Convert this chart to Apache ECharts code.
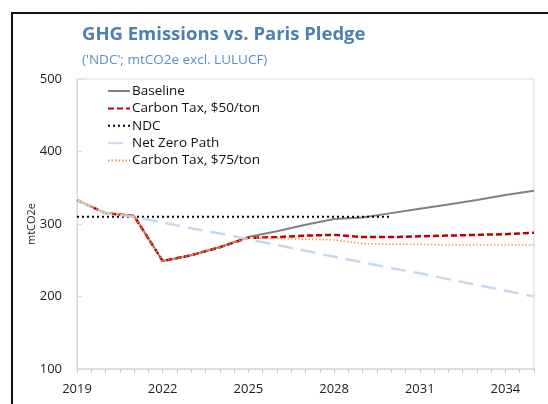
<!DOCTYPE html>
<html>
<head>
<meta charset="utf-8">
<script src="https://cdn.jsdelivr.net/npm/echarts@6/dist/echarts.min.js"></script>
<style>
  html, body { margin: 0; padding: 0; background: #fff; }
  #chart { width: 548px; height: 404px; }
</style>
</head>
<body>
<div id="chart"></div>
<script>
// years on the x axis
var years = [2019, 2020, 2021, 2022, 2023, 2024, 2025, 2026, 2027, 2028, 2029, 2030, 2031, 2032, 2033, 2034, 2035];
// series values (mtCO2e), null = no point
var baseline  = [333, 315, 311, 249, 257, 268, 282, 290, 299, 307, 309, 315, 321, 327, 333, 340, 346];
var carbon50  = [333, 315, 311, 249, 257, 268, 281, 282, 284, 285, 282, 282, 283, 284, 285, 286, 288];
var ndc       = [310, 310, 310, 310, 310, 310, 310, 310, 310, 310, 310, 310, null, null, null, null, null];
var netZero   = [333, 315, 310, 302, 294, 287, 279, 271, 263, 255, 247, 239, 232, 224, 216, 208, 200];
var carbon75  = [333, 315, 311, 249, 257, 268, 281, 280, 279, 278, 273, 272, 272, 271, 271, 271, 271];
var labelYears = [2019, 2022, 2025, 2028, 2031, 2034];

function pairs(vals) {
	var out = [];
	for (var i = 0; i < years.length; i++) {
		if (vals[i] !== null) out.push([years[i], vals[i]]);
	}
	return out;
}

var chart = echarts.init(document.getElementById('chart'), null, { renderer: 'canvas' });
var font = 'Open Sans';

var option = {
	backgroundColor: '#ffffff',
	animation: false,
	textStyle: { fontFamily: font },
	title: {
		text: 'GHG Emissions vs. Paris Pledge',
		subtext: "('NDC'; mtCO2e excl. LULUCF)",
		left: 82,
		top: 25,
		itemGap: 9,
		padding: 0,
		textStyle: { fontFamily: font, fontSize: 18.5, fontWeight: 'bold', color: '#4d7fb2' },
		subtextStyle: { fontFamily: font, fontSize: 13.5, color: '#5b8fc7' }
	},
	legend: {
		orient: 'vertical',
		left: 107,
		top: 84,
		itemWidth: 22,
		itemHeight: 12,
		itemGap: 3.4,
		padding: 0,
		itemStyle: { opacity: 0 },
		textStyle: { fontFamily: font, fontSize: 13.5, lineHeight: 14, color: '#111', padding: [0, 0, 0, -3] },
		data: ['Baseline', 'Carbon Tax, $50/ton', 'NDC', 'Net Zero Path', 'Carbon Tax, $75/ton']
	},
	graphic: [{
		type: 'rect',
		shape: { x: 12, y: 13, width: 700, height: 500 },
		style: { fill: 'none', stroke: '#111', lineWidth: 2 },
		silent: true
	}],
	grid: {
		left: 77,
		top: 79,
		right: 14,
		bottom: 35,
		show: true,
		borderColor: '#d9d9d9',
		borderWidth: 1
	},
	xAxis: {
		type: 'value',
		min: 2019,
		max: 2035,
		interval: 0.5,
		splitLine: { show: false },
		axisLine: { lineStyle: { color: '#d9d9d9', width: 1.5 } },
		axisTick: { length: 4, lineStyle: { color: '#c8c8c8' } },
		axisLabel: {
			margin: 14,
			fontSize: 13,
			color: '#222',
			showMinLabel: true,
			showMaxLabel: true,
			formatter: function (v) {
				return labelYears.indexOf(v) >= 0 ? String(v) : '';
			}
		}
	},
	yAxis: {
		type: 'value',
		min: 100,
		max: 500,
		interval: 100,
		name: 'mtCO2e',
		nameLocation: 'middle',
		nameGap: 40,
		nameMoveOverlap: false,
		nameTextStyle: { fontFamily: font, fontSize: 11, color: '#222' },
		splitLine: { show: false },
		axisLine: { show: true, lineStyle: { color: '#d9d9d9' } },
		axisTick: { show: true, inside: true, length: 5, lineStyle: { color: '#d9d9d9' } },
		axisLabel: { margin: 15, fontSize: 13, color: '#222' }
	},
	series: [{
		name: 'Baseline',
		type: 'line',
		symbol: 'none',
		data: pairs(baseline),
		lineStyle: { color: '#808080', width: 2 },
		itemStyle: { color: '#808080' }
	}, {
		name: 'Carbon Tax, $50/ton',
		type: 'line',
		symbol: 'none',
		data: pairs(carbon50),
		lineStyle: { color: '#c00000', width: 2.5, type: [6, 3] },
		itemStyle: { color: '#c00000' }
	}, {
		name: 'NDC',
		type: 'line',
		symbol: 'none',
		data: pairs(ndc),
		lineStyle: { color: '#000000', width: 2, type: [2, 3] },
		itemStyle: { color: '#000000' }
	}, {
		name: 'Net Zero Path',
		type: 'line',
		symbol: 'none',
		data: pairs(netZero),
		lineStyle: { color: '#c6d9f1', width: 2.5, type: [15, 8] },
		itemStyle: { color: '#c6d9f1' }
	}, {
		name: 'Carbon Tax, $75/ton',
		type: 'line',
		symbol: 'none',
		data: pairs(carbon75),
		lineStyle: { color: '#f79646', width: 1.5, type: [1.5, 2] },
		itemStyle: { color: '#f79646' }
	}]
};

chart.setOption(option);
</script>
</body>
</html>
